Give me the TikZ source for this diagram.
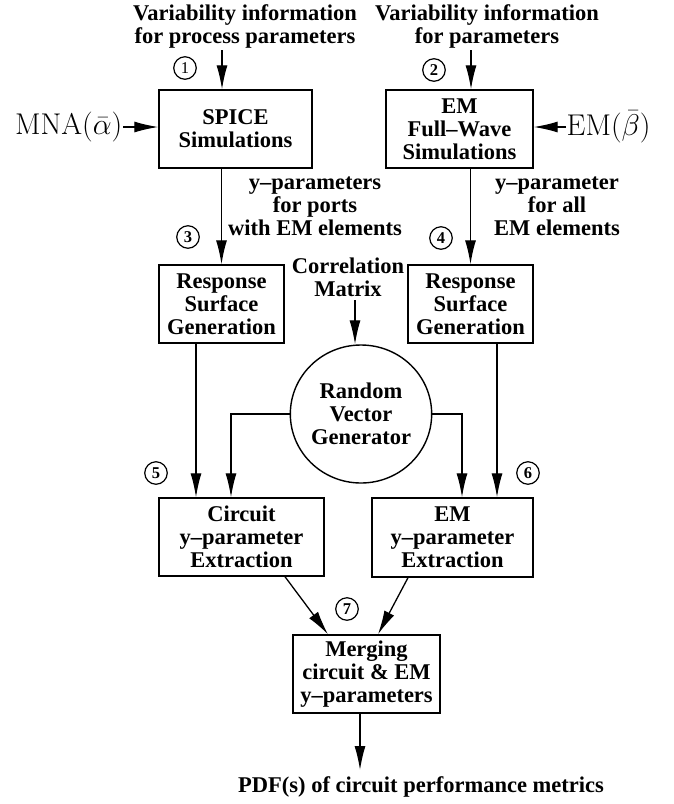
\RequirePackage{fix-cm}
\documentclass[tikz,border=0pt]{standalone}
\usepackage[no-math]{fontspec}
\setmainfont{Liberation Serif}
\usetikzlibrary{shapes.geometric,arrows.meta,calc}
\begin{document}
\begin{tikzpicture}[x=1pt,y=-1pt,
  txt/.style={font=\fontsize{22.5}{23}\selectfont\bfseries, align=center, inner sep=0pt},
  box/.style={txt, draw, line width=1.4pt},
  num/.style={circle, draw, line width=1.2pt, minimum size=22.5pt, inner sep=0pt,
              font=\fontsize{16.5}{16.5}\selectfont\bfseries},
  arr/.style={line width=1.3pt, -{Latex[length=24pt,width=11pt]}},
  mth/.style={inner sep=0.5pt, font=\fontsize{30}{32}\selectfont}]
\useasboundingbox (0,0) rectangle (674,804);

% titles
\node[txt] (t1) at (245,26.5) {Variability information\\for process parameters};
\node[txt] (t2) at (487,26.5) {Variability information\\for parameters};
\node[num, font=\fontsize{16.5}{16.5}\selectfont] (n1) at (185,68) {1};
\node[num] (n2) at (434,70) {2};
\coordinate (a1) at (222,50);
\coordinate (a2) at (471,50);

% first row
\node[box, minimum width=153pt, minimum height=78pt] (spice) at (235.5,129) {SPICE\\Simulations};
\node[box, minimum width=147pt, minimum height=78pt] (em) at (459.5,129) {EM\\Full--Wave\\Simulations};
\node[mth, anchor=east] (mna) at (123,127) {$\mathrm{MNA}(\bar{\alpha})$};
\node[mth, anchor=west] (emb) at (566,127) {$\mathrm{EM}(\bar{\beta})$};

\draw[arr] (a1) -- (a1 |- spice.north);
\draw[arr] (a2) -- (a2 |- em.north);
\draw[arr] (mna.east) -- (mna.east -| spice.west);
\draw[arr] (emb.west) -- (emb.west -| em.east);

% second row
\node[box, minimum width=125pt, minimum height=78pt] (rsl) at (221.5,304) {Response\\Surface\\Generation};
\node[box, minimum width=125pt, minimum height=78pt] (rsr) at (470.5,304) {Response\\Surface\\Generation};
\node[num] (n3) at (188,237) {3};
\node[num] (n4) at (441,238) {4};
\node[txt] (lab3) at (315,206) {y--parameters\\for ports\\with EM elements};
\node[txt] (lab4) at (557,206) {y--parameter\\for all\\EM elements};
\node[txt] (corr) at (348,277) {Correlation\\Matrix};

\draw[arr] (rsl.north |- spice.south) -- (rsl.north);
\draw[arr] (rsr.north |- em.south) -- (rsr.north);

% random vector generator
\node[ellipse, draw, line width=1.4pt, minimum width=125pt, minimum height=138pt, inner sep=0pt,
      txt] (rvg) at (361,414) {Random\\Vector\\Generator};
\coordinate (c1) at (355,300);
\draw[arr] (c1) -- (c1 |- rvg.north);

% third row
\node[box, minimum width=165pt, minimum height=78pt] (circ) at (241.5,537) {Circuit\\y--parameter\\Extraction};
\node[box, minimum width=161pt, minimum height=79pt] (emx) at (452.5,537.5) {EM\\y--parameter\\Extraction};
\node[num] (n5) at (156,473) {5};
\node[num] (n6) at (528,473) {6};

\draw[arr] ($(rsl.south)+(-25.5,0)$) -- ($(circ.north)+(-45.5,0)$);
\draw[arr] (rvg.west) -| ($(circ.north)+(-10.5,0)$);
\draw[arr] (rvg.east) -| ($(emx.north)+(9.5,0)$);
\draw[arr] ($(rsr.south)+(26.5,0)$) -- ($(emx.north)+(44.5,0)$);

% merging
\node[box, minimum width=147pt, minimum height=78pt] (merge) at (366.5,674) {Merging\\circuit \& EM\\y--parameters};
\node[num] (n7) at (347,609) {7};
\draw[arr] ($(circ.south)+(43.5,0)$) -- ($(merge.north)+(-38.5,0)$);
\draw[arr] ($(emx.south)+(-44.5,0)$) -- ($(merge.north)+(11.5,0)$);

\node[txt] (pdf) at (421,787) {PDF(s) of circuit performance metrics};
\coordinate (m1) at ($(merge.south)+(-6.5,0)$);
\draw[arr] (m1) -- (m1 |- 0,770);
\end{tikzpicture}
\end{document}
